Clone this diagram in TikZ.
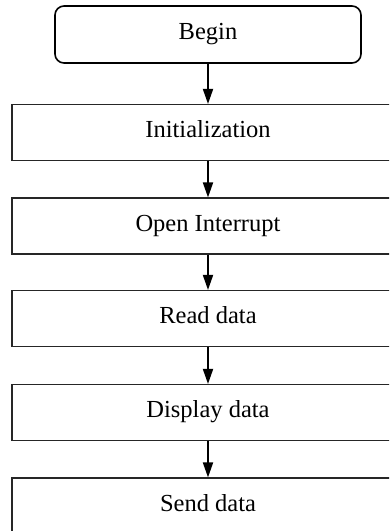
\documentclass[tikz,border=0pt]{standalone}
\usepackage{fontspec}
\setmainfont{Liberation Serif}
\usetikzlibrary{arrows.meta}
\begin{document}
\begin{tikzpicture}[x=1pt,y=-1pt,
  txt/.style={inner sep=0pt,font=\fontsize{24.5}{28}\selectfont,text height=17pt,text depth=6.5pt},
  procbox/.style={txt,draw=black!85,line width=1.1pt,minimum width=392pt,minimum height=56pt},
  termbox/.style={txt,draw=black,line width=1.6pt,rounded corners=9pt,minimum width=306pt,minimum height=57pt},
  flow/.style={line width=1.8pt,-{Triangle[length=15pt,width=10pt]}}]
\useasboundingbox (0,0) rectangle (389,531);
\clip (0,0) rectangle (389,531);
\fill[white] (0,0) rectangle (389,531);
\node[termbox] (begin) at (208,34.5) {Begin};
\node[procbox] (init) at (208,132.5) {Initialization};
\node[procbox] (irq) at (208,226) {Open Interrupt};
\node[procbox] (read) at (208,318.5) {Read data};
\node[procbox] (disp) at (208,412.5) {Display data};
\node[procbox] (send) at (208,506) {Send data};
\draw[flow] (begin) -- (init);
\draw[flow] (init) -- (irq);
\draw[flow] (irq) -- (read);
\draw[flow] (read) -- (disp);
\draw[flow] (disp) -- (send);
\end{tikzpicture}
\end{document}
